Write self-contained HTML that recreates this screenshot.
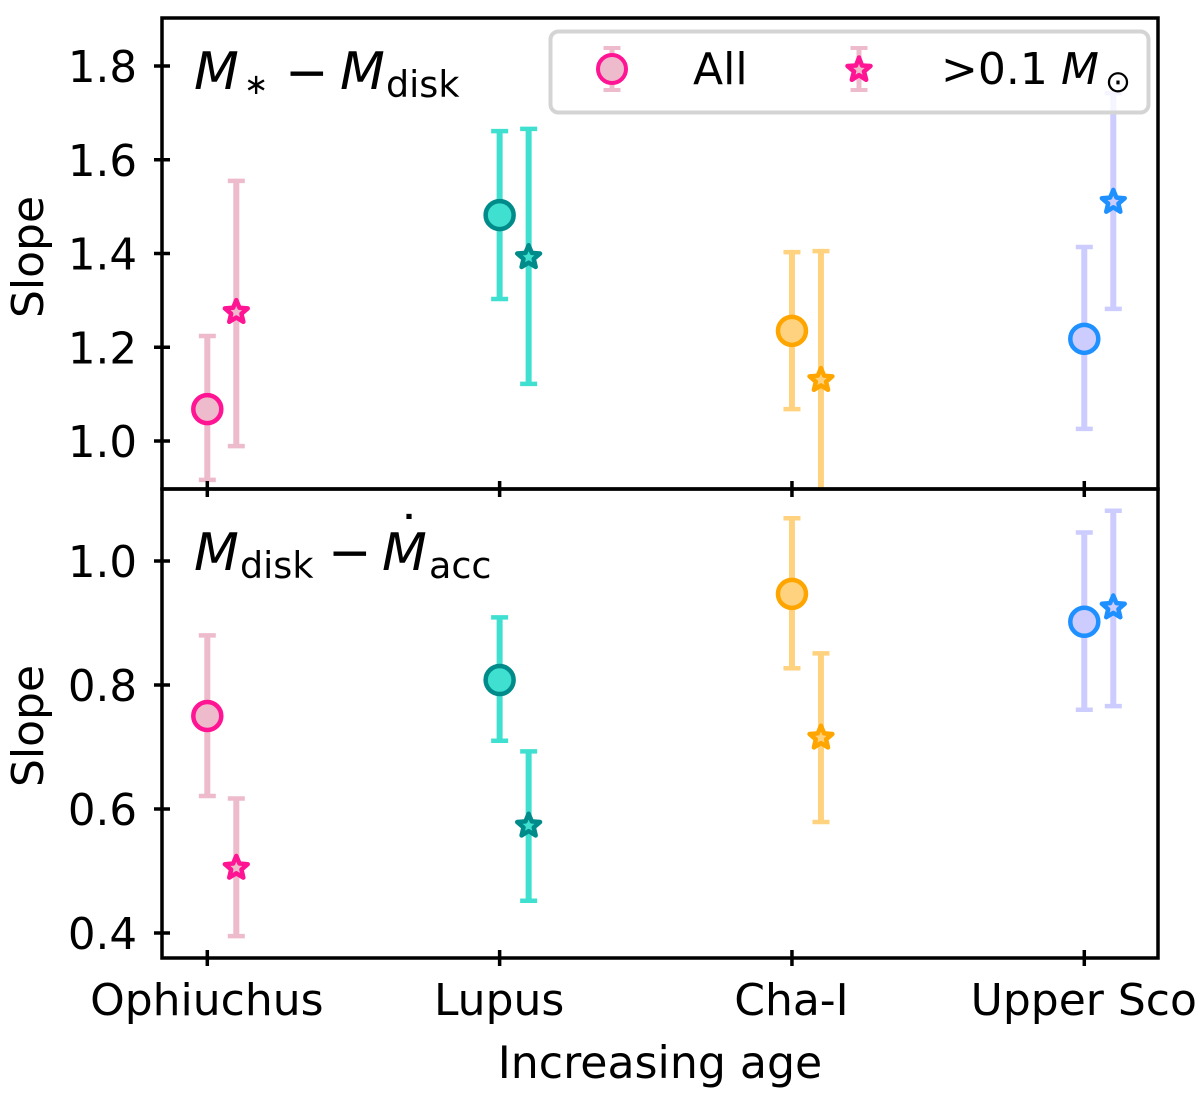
<!DOCTYPE html>
<html lang="en">
<head>
<meta charset="utf-8">
<title>Slope vs increasing age</title>
<style>
html,body{margin:0;padding:0;background:#fff;}
svg{display:block;}
text{font-family:"DejaVu Sans","Liberation Sans",sans-serif;fill:#000;}
.it{font-style:italic;}
</style>
</head>
<body>
<svg id="chart" xmlns="http://www.w3.org/2000/svg" width="1200" height="1103" viewBox="0 0 1200 1103">
<defs>
<clipPath id="clip-top"><rect x="162" y="18" width="996" height="471"/></clipPath>
<clipPath id="clip-bottom"><rect x="162" y="489" width="996" height="469"/></clipPath>
</defs>
<g id="marks-top" clip-path="url(#clip-top)"></g>
<g id="marks-bottom" clip-path="url(#clip-bottom)"></g>
<g id="axes"></g>

<g>
<text class="it" x="194" y="89" font-size="52">M</text>
<text x="244" y="94" font-size="29">∗</text>
<text x="285" y="90" font-size="52">−</text>
<text class="it" x="340" y="89" font-size="52">M</text>
<text x="386" y="97" font-size="36.5">disk</text>
</g>
<g>
<text class="it" x="194" y="570" font-size="52">M</text>
<text x="240" y="578" font-size="36.5">disk</text>
<text x="328" y="570" font-size="52">−</text>
<text class="it" x="382" y="570" font-size="52">M</text>
<text x="396" y="553" font-size="52">˙</text>
<text x="429" y="578" font-size="36.5">acc</text>
</g>

<g>
<rect x="550.5" y="31.5" width="598" height="81" rx="8" ry="8" fill="#fff" fill-opacity="0.8" stroke="#d4d4d4" stroke-width="4"/>
<g>
<line x1="612" y1="47" x2="612" y2="91" stroke="#eebbcc" stroke-width="5"/>
<line x1="603.5" y1="48" x2="620.5" y2="48" stroke="#eebbcc" stroke-width="4"/>
<line x1="603.5" y1="90" x2="620.5" y2="90" stroke="#eebbcc" stroke-width="4"/>
<circle cx="612" cy="69" r="14" fill="#eebbcc" stroke="#ff1493" stroke-width="4"/>
<text x="693" y="84" font-size="44">All</text>
</g>
<g>
<line x1="859" y1="47" x2="859" y2="91" stroke="#eebbcc" stroke-width="5"/>
<line x1="850.5" y1="48" x2="867.5" y2="48" stroke="#eebbcc" stroke-width="4"/>
<line x1="850.5" y1="90" x2="867.5" y2="90" stroke="#eebbcc" stroke-width="4"/>
<path d="M859,57.5L862,65.5L870.5,66L864,71.5L866.2,79.8L859,75.2L851.8,79.8L854,71.5L847.5,66L856,65.5Z" fill="#eebbcc" stroke="#ff1493" stroke-width="4.5" stroke-linejoin="round"/>
<text x="941" y="84" font-size="44">&gt;0.1</text>
<text class="it" x="1061" y="84" font-size="44">M</text>
<text x="1105" y="92" font-size="31">⊙</text>
</g>
</g>

<text x="660" y="1078" font-size="44.2" text-anchor="middle">Increasing age</text>
<text x="0" y="0" font-size="44" text-anchor="middle" transform="translate(43,257) rotate(-90)">Slope</text>
<text x="0" y="0" font-size="44" text-anchor="middle" transform="translate(43,726) rotate(-90)">Slope</text>
</svg>

<script>
const regions = ["Ophiuchus", "Lupus", "Cha-I", "Upper Sco"];
const topTicks = ["1.0", "1.2", "1.4", "1.6", "1.8"];
const bottomTicks = ["0.4", "0.6", "0.8", "1.0"];

const topAll = [1.068, 1.482, 1.235, 1.218];
const topAllLow = [0.917, 1.303, 1.068, 1.026];
const topAllHigh = [1.224, 1.661, 1.403, 1.414];
const topStar = [1.275, 1.392, 1.130, 1.510];
const topStarLow = [0.989, 1.122, 0.855, 1.282];
const topStarHigh = [1.555, 1.666, 1.405, 1.742];

const bottomAll = [0.750, 0.808, 0.947, 0.902];
const bottomAllLow = [0.621, 0.710, 0.827, 0.760];
const bottomAllHigh = [0.880, 0.909, 1.069, 1.046];
const bottomStar = [0.505, 0.573, 0.715, 0.925];
const bottomStarLow = [0.395, 0.452, 0.579, 0.766];
const bottomStarHigh = [0.617, 0.693, 0.851, 1.081];

const barColors = ["#eebbcc", "#40e0d0", "#ffd27f", "#ccccff"];
const edgeColors = ["#ff1493", "#008b8b", "#ffa500", "#1e90ff"];

const NS = "http://www.w3.org/2000/svg";
function xPos(i) { return 207.3 + 292.33 * i; }
function yTop(v) { return 441 - (v - 1.0) * 468.75; }
function yBottom(v) { return 933 - (v - 0.4) * 620; }
const STAR_OFFSET = 29;

function make(tag, attrs, parent) {
  const el = document.createElementNS(NS, tag);
  for (const k in attrs) el.setAttribute(k, attrs[k]);
  parent.appendChild(el);
  return el;
}
function starPath(cx, cy, R, r) {
  let d = "";
  for (let k = 0; k < 10; k++) {
    const rad = k % 2 ? r : R;
    const a = -Math.PI / 2 + k * Math.PI / 5;
    d += (k ? "L" : "M") + (cx + rad * Math.cos(a)).toFixed(2) + "," + (cy + rad * Math.sin(a)).toFixed(2);
  }
  return d + "Z";
}
function drawErrorbar(parent, x, y, low, high, color, name) {
  const g = make("g", {}, parent);
  
  
  make("line", {x1: x, x2: x, y1: y(high), y2: y(low), stroke: color, "stroke-width": 6}, g);
  make("line", {x1: x - 8.5, x2: x + 8.5, y1: y(high), y2: y(high), stroke: color, "stroke-width": 4.5}, g);
  make("line", {x1: x - 8.5, x2: x + 8.5, y1: y(low), y2: y(low), stroke: color, "stroke-width": 4.5}, g);
}
function drawPanel(parentId, y, all, allLow, allHigh, star, starLow, starHigh, prefix) {
  const parent = document.getElementById(parentId);
  regions.forEach(function (region, i) {
    const slug = region.toLowerCase().replace(/[^a-z]+/g, "-");
    const x0 = xPos(i), x1 = x0 + STAR_OFFSET;
    drawErrorbar(parent, x0, y, allLow[i], allHigh[i], barColors[i], prefix + "-errorbar-all-" + slug);
    drawErrorbar(parent, x1, y, starLow[i], starHigh[i], barColors[i], prefix + "-errorbar-star-" + slug);
    const c = make("circle", {cx: x0, cy: y(all[i]), r: 14, fill: barColors[i], stroke: edgeColors[i], "stroke-width": 4.5}, parent);
    
    
    const s = make("path", {d: starPath(x1, y(star[i]), 12, 5.4), fill: barColors[i], stroke: edgeColors[i], "stroke-width": 4.5, "stroke-linejoin": "round"}, parent);
    
    
  });
}
drawPanel("marks-top", yTop, topAll, topAllLow, topAllHigh, topStar, topStarLow, topStarHigh, "top");
drawPanel("marks-bottom", yBottom, bottomAll, bottomAllLow, bottomAllHigh, bottomStar, bottomStarLow, bottomStarHigh, "bottom");

const axes = document.getElementById("axes");
function drawYTicks(ticks, y, prefix) {
  ticks.forEach(function (t) {
    const py = y(parseFloat(t));
    const line = make("line", {x1: 154, x2: 170, y1: py, y2: py, stroke: "#000", "stroke-width": 3.5}, axes);
    
    
    const label = make("text", {x: 137, y: py + 16, "font-size": 43.5, "text-anchor": "end"}, axes);
    
    
    label.textContent = t;
  });
}
drawYTicks(topTicks, yTop, "top");
drawYTicks(bottomTicks, yBottom, "bottom");

regions.forEach(function (region, i) {
  const x = xPos(i);
  [489, 958].forEach(function (ay) {
    const tick = make("line", {x1: x, x2: x, y1: ay - 8, y2: ay + 8, stroke: "#000", "stroke-width": 3.5}, axes);
    
    
  });
  const label = make("text", {x: x - 0.5, y: 1015, "font-size": 44, "text-anchor": "middle"}, axes);
  
  
  label.textContent = region;
});

const frameTop = make("rect", {x: 162, y: 18, width: 996, height: 471, fill: "none", stroke: "#000", "stroke-width": 3.5}, axes);


const frameBottom = make("rect", {x: 162, y: 489, width: 996, height: 469, fill: "none", stroke: "#000", "stroke-width": 3.5}, axes);


</script>
</body>
</html>
